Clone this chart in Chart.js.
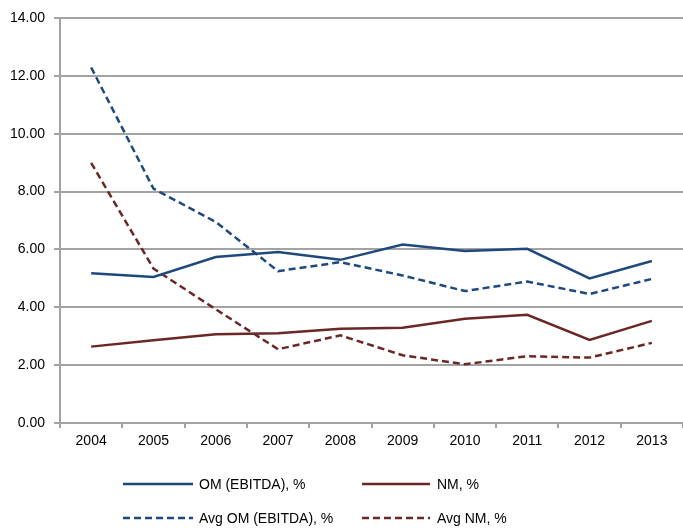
<!DOCTYPE html>
<html>
<head>
<meta charset="utf-8">
<script src="https://cdn.jsdelivr.net/npm/chart.js@4/dist/chart.umd.min.js"></script>
<style>
html,body{margin:0;padding:0;background:#fff;overflow:hidden;}
#wrap{width:683px;height:531px;position:relative;}
</style>
</head>
<body>
<div id="wrap"><canvas id="c" width="683" height="531"></canvas></div>
<script>
const years = ["2004","2005","2006","2007","2008","2009","2010","2011","2012","2013"];
const omEbitda = [5.18, 5.05, 5.74, 5.91, 5.64, 6.17, 5.95, 6.02, 5.00, 5.60];
const nm = [2.64, 2.86, 3.07, 3.10, 3.26, 3.29, 3.60, 3.74, 2.87, 3.53];
const avgOmEbitda = [12.29, 8.10, 6.95, 5.25, 5.56, 5.10, 4.56, 4.89, 4.46, 4.98];
const avgNm = [8.99, 5.34, 3.93, 2.55, 3.03, 2.34, 2.03, 2.31, 2.26, 2.77];
const yTicks = [0, 2, 4, 6, 8, 10, 12, 14];

const BLUE = "#1F497D";
const RED = "#6B2626";
const GRID = "#a3a3a3";
const FONT = "'Liberation Sans', Arial, sans-serif";

const legendPlugin = {
  id: "gridLegend",
  afterDraw(chart) {
    const ctx = chart.ctx;
    const ds = chart.data.datasets;
    const cols = [{lx: 123, lw: 70, tx: 199}, {lx: 362, lw: 68, tx: 437}];
    const rows = [484, 518];
    const order = [[0, 0, 0], [1, 1, 0], [2, 0, 1], [3, 1, 1]];
    ctx.save();
    ctx.font = "14px " + FONT;
    ctx.textBaseline = "middle";
    ctx.fillStyle = "#000";
    order.forEach(([i, c, r]) => {
      const d = ds[i];
      const col = cols[c];
      const y = rows[r];
      ctx.beginPath();
      ctx.strokeStyle = d.borderColor;
      ctx.lineWidth = d.borderWidth;
      ctx.setLineDash(d.borderDash || []);
      ctx.moveTo(col.lx, y);
      ctx.lineTo(col.lx + col.lw, y);
      ctx.stroke();
      ctx.setLineDash([]);
      ctx.fillText(d.label, col.tx, y + 1);
    });
    ctx.restore();
  }
};

new Chart(document.getElementById("c"), {
  type: "line",
  data: {
    labels: years,
    datasets: [
      {label: "OM (EBITDA), %", data: omEbitda, borderColor: BLUE, borderWidth: 2.5},
      {label: "NM, %", data: nm, borderColor: RED, borderWidth: 2.5},
      {label: "Avg OM (EBITDA), %", data: avgOmEbitda, borderColor: BLUE, borderWidth: 2.5, borderDash: [7, 4]},
      {label: "Avg NM, %", data: avgNm, borderColor: RED, borderWidth: 2.5, borderDash: [7, 4]}
    ]
  },
  options: {
    responsive: false,
    animation: false,
    devicePixelRatio: 1,
    layout: {padding: {top: 18, right: 0, bottom: 0, left: 0}},
    elements: {point: {radius: 0}, line: {tension: 0, fill: false, borderCapStyle: "butt"}},
    plugins: {legend: {display: false}, tooltip: {enabled: false}},
    scales: {
      x: {
        offset: true,
        grid: {offset: true, drawOnChartArea: false, drawTicks: true, tickLength: 5, color: GRID, lineWidth: 2},
        border: {display: true, color: GRID, width: 2},
        ticks: {color: "#000", font: {family: FONT, size: 14}, padding: 5, maxRotation: 0},
        afterFit(s) { s.height = 108; }
      },
      y: {
        min: 0, max: 14,
        afterBuildTicks(s) { s.ticks = yTicks.map(v => ({value: v})); },
        grid: {color: GRID, lineWidth: 2, tickLength: 6},
        border: {display: true, color: GRID, width: 2},
        ticks: {color: "#000", font: {family: FONT, size: 14}, padding: 9, callback: v => Number(v).toFixed(2)},
        afterFit(s) { s.width = 60; }
      }
    }
  },
  plugins: [legendPlugin]
});
</script>
</body>
</html>
